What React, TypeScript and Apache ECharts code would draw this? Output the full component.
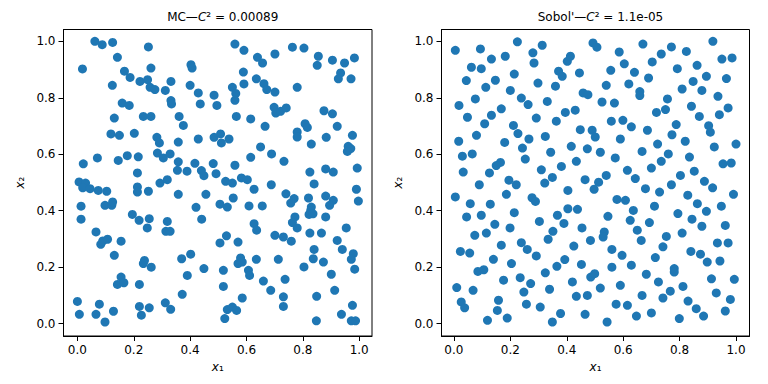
import React, { useEffect, useRef } from "react";
import * as echarts from "echarts";

const FONT = "DejaVu Sans";
const POINT_COLOR = "#1f77b4";

const leftTitle = "{a|MC—}{i|C}{a|² = 0.00089}";
const rightTitle = "{a|Sobol'—}{i|C}{a|² = 1.1e-05}";
const xName = "{i|x}{a|₁}";
const yName = "{i|x}{a|₂}";
const tickValues = [0, 0.2, 0.4, 0.6, 0.8, 1.0];

const mcPoints: [number, number][] = [
  [0.062, 1.0], [0.088, 0.988], [0.125, 0.996], [0.252, 0.98], [0.142, 0.943], [0.018, 0.902], [0.167, 0.894], [0.187, 0.872],
  [0.261, 0.905], [0.403, 0.917], [0.407, 0.905], [0.124, 0.844], [0.222, 0.858], [0.249, 0.864], [0.258, 0.837], [0.275, 0.829],
  [0.332, 0.858], [0.312, 0.826], [0.4, 0.844], [0.429, 0.817], [0.485, 0.809], [0.495, 0.773], [0.436, 0.778], [0.332, 0.79],
  [0.334, 0.778], [0.159, 0.781], [0.184, 0.773], [0.131, 0.728], [0.234, 0.734], [0.261, 0.734], [0.361, 0.734], [0.376, 0.702],
  [0.119, 0.672], [0.149, 0.667], [0.202, 0.674], [0.282, 0.66], [0.291, 0.64], [0.358, 0.643], [0.429, 0.654], [0.485, 0.66],
  [0.021, 0.566], [0.071, 0.587], [0.145, 0.578], [0.177, 0.595], [0.216, 0.591], [0.284, 0.604], [0.305, 0.587], [0.329, 0.601],
  [0.358, 0.573], [0.355, 0.543], [0.389, 0.54], [0.417, 0.568], [0.44, 0.542], [0.449, 0.524], [0.482, 0.567], [0.492, 0.531],
  [0.213, 0.534], [0.006, 0.502], [0.029, 0.498], [0.293, 0.498], [0.319, 0.51],
  [0.019, 0.481], [0.045, 0.478], [0.074, 0.472], [0.104, 0.469], [0.213, 0.484], [0.213, 0.466], [0.252, 0.469], [0.358, 0.458],
  [0.456, 0.458], [0.013, 0.416], [0.013, 0.37], [0.098, 0.419], [0.122, 0.419], [0.125, 0.431], [0.195, 0.387], [0.219, 0.366],
  [0.255, 0.372], [0.248, 0.339], [0.319, 0.362], [0.314, 0.327], [0.329, 0.327], [0.421, 0.412], [0.441, 0.37], [0.066, 0.325],
  [0.083, 0.281], [0.09, 0.293], [0.107, 0.299], [0.155, 0.292], [0.131, 0.242], [0.238, 0.224], [0.234, 0.213], [0.262, 0.2],
  [0.37, 0.23], [0.402, 0.246], [0.449, 0.195], [0.39, 0.171], [0.155, 0.165], [0.142, 0.139], [0.165, 0.145], [0.22, 0.139],
  [0.372, 0.104], [0.0, 0.079], [0.007, 0.033], [0.078, 0.069], [0.066, 0.033], [0.098, 0.006], [0.128, 0.044], [0.22, 0.061],
  [0.227, 0.03], [0.255, 0.056], [0.312, 0.074], [0.331, 0.051],
  [0.559, 0.99], [0.591, 0.968], [0.639, 0.943], [0.657, 0.923], [0.701, 0.955], [0.763, 0.979], [0.804, 0.976], [0.855, 0.947],
  [0.851, 0.915], [0.905, 0.933], [0.948, 0.923], [0.983, 0.941], [0.934, 0.888], [0.926, 0.867], [0.971, 0.867], [0.589, 0.891],
  [0.635, 0.867], [0.591, 0.849], [0.55, 0.837], [0.662, 0.85], [0.672, 0.829], [0.701, 0.82], [0.78, 0.837], [0.562, 0.815],
  [0.559, 0.791], [0.698, 0.766], [0.704, 0.746], [0.721, 0.752], [0.741, 0.764], [0.875, 0.754], [0.905, 0.743], [0.564, 0.734],
  [0.615, 0.725], [0.666, 0.699], [0.808, 0.708], [0.816, 0.695], [0.922, 0.699], [0.78, 0.679], [0.78, 0.661], [0.883, 0.66],
  [0.976, 0.667], [0.83, 0.636], [0.961, 0.628], [0.97, 0.62], [0.958, 0.61], [0.508, 0.672], [0.511, 0.64], [0.538, 0.654],
  [0.65, 0.626], [0.689, 0.601], [0.615, 0.589], [0.733, 0.575], [0.559, 0.561], [0.526, 0.504], [0.55, 0.498], [0.582, 0.516],
  [0.603, 0.51], [0.825, 0.537], [0.881, 0.548], [0.908, 0.537], [0.993, 0.551], [0.688, 0.492], [0.84, 0.495],
  [0.627, 0.476], [0.99, 0.476], [0.997, 0.434], [0.553, 0.445], [0.506, 0.423], [0.532, 0.413], [0.609, 0.417], [0.656, 0.417],
  [0.74, 0.46], [0.769, 0.443], [0.757, 0.427], [0.82, 0.445], [0.83, 0.413], [0.828, 0.401], [0.822, 0.387], [0.836, 0.389],
  [0.881, 0.452], [0.908, 0.437], [0.895, 0.419], [0.881, 0.378], [0.772, 0.378], [0.763, 0.358], [0.78, 0.339], [0.627, 0.354],
  [0.636, 0.331], [0.701, 0.313], [0.731, 0.307], [0.759, 0.292], [0.825, 0.321], [0.866, 0.321], [0.954, 0.339], [0.922, 0.295],
  [0.94, 0.263], [0.979, 0.248], [0.972, 0.228], [0.984, 0.193], [0.529, 0.311], [0.506, 0.286], [0.57, 0.289], [0.84, 0.263],
  [0.837, 0.23], [0.873, 0.218], [0.579, 0.233], [0.57, 0.213], [0.585, 0.218], [0.635, 0.228], [0.713, 0.228], [0.804, 0.201],
  [0.518, 0.189], [0.607, 0.189], [0.611, 0.171], [0.901, 0.175], [0.66, 0.151], [0.737, 0.157], [0.518, 0.132], [0.686, 0.118],
  [0.913, 0.118], [0.585, 0.091], [0.731, 0.095], [0.731, 0.061], [0.849, 0.097], [0.976, 0.065], [0.532, 0.05], [0.55, 0.059],
  [0.565, 0.047], [0.523, 0.018], [0.937, 0.033], [0.848, 0.01], [0.972, 0.01], [0.987, 0.01],
];

const sobolPoints: [number, number][] = [
  [0.005, 0.968], [0.094, 0.973], [0.225, 0.998], [0.313, 0.986], [0.28, 0.959], [0.284, 0.923], [0.133, 0.937], [0.182, 0.947],
  [0.062, 0.908], [0.097, 0.903], [0.044, 0.861], [0.113, 0.837], [0.147, 0.862], [0.214, 0.884], [0.2, 0.826], [0.298, 0.852],
  [0.36, 0.841], [0.402, 0.929], [0.413, 0.947], [0.371, 0.894], [0.384, 0.876], [0.445, 0.888], [0.493, 0.994], [0.458, 0.817],
  [0.475, 0.811], [0.018, 0.773], [0.076, 0.796], [0.239, 0.799], [0.263, 0.776], [0.331, 0.787], [0.168, 0.761], [0.048, 0.731],
  [0.133, 0.738], [0.109, 0.708], [0.292, 0.728], [0.363, 0.717], [0.395, 0.748], [0.43, 0.756], [0.211, 0.702], [0.227, 0.673],
  [0.08, 0.667], [0.017, 0.646], [0.18, 0.642], [0.266, 0.654], [0.324, 0.663], [0.448, 0.687], [0.49, 0.685], [0.243, 0.622],
  [0.253, 0.583], [0.343, 0.607], [0.416, 0.628], [0.473, 0.619], [0.03, 0.593], [0.065, 0.601], [0.165, 0.571], [0.15, 0.56],
  [0.434, 0.575], [0.381, 0.557], [0.31, 0.545], [0.033, 0.537], [0.126, 0.534], [0.349, 0.518], [0.195, 0.508], [0.322, 0.498],
  [0.465, 0.51], [0.09, 0.492], [0.221, 0.492],
  [0.404, 0.472], [0.497, 0.476], [0.005, 0.449], [0.058, 0.425], [0.129, 0.423], [0.186, 0.458], [0.277, 0.446], [0.289, 0.433],
  [0.404, 0.407], [0.438, 0.405], [0.045, 0.378], [0.097, 0.384], [0.214, 0.393], [0.367, 0.384], [0.303, 0.362], [0.39, 0.355],
  [0.145, 0.352], [0.199, 0.339], [0.454, 0.339], [0.074, 0.313], [0.115, 0.321], [0.351, 0.327], [0.334, 0.299], [0.484, 0.295],
  [0.168, 0.278], [0.239, 0.287], [0.26, 0.263], [0.425, 0.275], [0.023, 0.256], [0.056, 0.25], [0.292, 0.24], [0.14, 0.228],
  [0.204, 0.213], [0.393, 0.227], [0.365, 0.203], [0.452, 0.21], [0.085, 0.185], [0.106, 0.191], [0.324, 0.18], [0.235, 0.163],
  [0.176, 0.154], [0.272, 0.142], [0.42, 0.148], [0.485, 0.165], [0.499, 0.177], [0.01, 0.128], [0.068, 0.118], [0.248, 0.112],
  [0.339, 0.122], [0.434, 0.097], [0.473, 0.1], [0.026, 0.077], [0.038, 0.056], [0.158, 0.083], [0.154, 0.047], [0.257, 0.069],
  [0.306, 0.059], [0.119, 0.012], [0.189, 0.02], [0.349, 0.006], [0.378, 0.036], [0.465, 0.033],
  [0.507, 0.979], [0.67, 0.99], [0.771, 0.98], [0.918, 1.0], [0.586, 0.962], [0.735, 0.955], [0.824, 0.964], [0.604, 0.92],
  [0.703, 0.927], [0.95, 0.937], [0.986, 0.941], [0.556, 0.897], [0.64, 0.89], [0.792, 0.903], [0.862, 0.915], [0.54, 0.844],
  [0.62, 0.849], [0.69, 0.87], [0.848, 0.858], [0.895, 0.876], [0.966, 0.868], [0.659, 0.822], [0.659, 0.808], [0.809, 0.831],
  [0.879, 0.826], [0.936, 0.805], [0.525, 0.785], [0.569, 0.781], [0.757, 0.796], [0.75, 0.758], [0.718, 0.748], [0.842, 0.77],
  [0.87, 0.734], [0.972, 0.764], [0.941, 0.74], [0.558, 0.717], [0.599, 0.72], [0.629, 0.697], [0.686, 0.685], [0.788, 0.705],
  [0.773, 0.669], [0.903, 0.701], [0.909, 0.678], [0.501, 0.661], [0.59, 0.654], [0.722, 0.636], [0.82, 0.646], [0.923, 0.626],
  [1.0, 0.636], [0.519, 0.607], [0.667, 0.61], [0.76, 0.601], [0.835, 0.59], [0.572, 0.587], [0.735, 0.575], [0.954, 0.566],
  [0.983, 0.569], [0.7, 0.551], [0.615, 0.543], [0.852, 0.54], [0.54, 0.525], [0.643, 0.514], [0.803, 0.525], [0.513, 0.501],
  [0.888, 0.504], [0.771, 0.492],
  [0.679, 0.478], [0.729, 0.466], [0.917, 0.481], [0.829, 0.455], [0.991, 0.458], [0.578, 0.44], [0.608, 0.437], [0.863, 0.425],
  [0.711, 0.416], [0.636, 0.401], [0.895, 0.398], [0.948, 0.416], [0.546, 0.38], [0.794, 0.39], [0.625, 0.366], [0.693, 0.358],
  [0.844, 0.37], [0.879, 0.345], [0.962, 0.348], [0.65, 0.331], [0.533, 0.325], [0.529, 0.307], [0.809, 0.321], [0.753, 0.309],
  [0.664, 0.295], [0.934, 0.286], [0.972, 0.286], [0.741, 0.272], [0.56, 0.263], [0.596, 0.242], [0.714, 0.234], [0.84, 0.256],
  [0.874, 0.246], [0.898, 0.218], [0.943, 0.222], [0.56, 0.2], [0.629, 0.207], [0.781, 0.195], [0.781, 0.183], [0.682, 0.175],
  [0.913, 0.159], [0.994, 0.157], [0.725, 0.148], [0.59, 0.136], [0.519, 0.126], [0.812, 0.132], [0.767, 0.115], [0.667, 0.1],
  [0.741, 0.091], [0.93, 0.109], [0.98, 0.086], [0.83, 0.08], [0.575, 0.069], [0.615, 0.065], [0.859, 0.053], [0.962, 0.045],
  [0.647, 0.027], [0.7, 0.038], [0.885, 0.027], [0.543, 0.006], [0.799, 0.018],
];

// axes boxes (pixels) and each axis's visible range
const FRAMES = [
  { left: 63.5, top: 29.5, width: 308.5, height: 306.5, xMin: -0.0493, xMax: 1.0454 },
  { left: 441.5, top: 29.5, width: 308, height: 306.5, xMin: -0.044, xMax: 1.0478 },
];
const Y_MIN = -0.0436;
const Y_MAX = 1.0417;

export default function App() {
  const ref = useRef<HTMLDivElement>(null);
  useEffect(() => {
    document.body.style.margin = "0";
    if (!ref.current) return;
    const chart = echarts.init(ref.current, null, { renderer: "svg" });
    const labelRich = {
      a: { fontFamily: FONT, fontSize: 12, color: "#000", fontWeight: "normal" },
      i: { fontFamily: FONT, fontSize: 12, fontStyle: "italic", color: "#000", fontWeight: "normal" },
    };
    const titleRich = {
      a: { fontFamily: FONT, fontSize: 12, color: "#000", fontWeight: "normal" },
      i: { fontFamily: FONT, fontSize: 12, fontStyle: "italic", color: "#000", fontWeight: "normal" },
    };
    const fmt = (v: number) => v.toFixed(1);
    const tickStyle = { show: true, length: 5, lineStyle: { color: "#000", width: 1 }, customValues: tickValues };
    const labelStyle = {
      color: "#000",
      fontFamily: FONT,
      fontSize: 12,
      margin: 8,
      formatter: fmt,
      customValues: tickValues,
    };
    const xAxes = FRAMES.map((f, i) => ({
      gridIndex: i,
      type: "value",
      min: f.xMin,
      max: f.xMax,
      axisLine: { show: true, onZero: false, lineStyle: { color: "#000", width: 1 } },
      axisTick: tickStyle,
      axisLabel: labelStyle,
      splitLine: { show: false },
      name: xName,
      nameLocation: "middle",
      nameGap: 25,
      nameTextStyle: { rich: labelRich },
    }));
    const yAxes = FRAMES.map((f, i) => ({
      gridIndex: i,
      type: "value",
      min: Y_MIN,
      max: Y_MAX,
      axisLine: { show: true, onZero: false, lineStyle: { color: "#000", width: 1 } },
      axisTick: tickStyle,
      axisLabel: labelStyle,
      splitLine: { show: false },
      name: yName,
      nameLocation: "middle",
      nameRotate: 90,
      nameGap: 38,
      nameTextStyle: { rich: labelRich },
    }));
    chart.setOption({
      animation: false,
      backgroundColor: "#fff",
      title: FRAMES.map((f, i) => ({
        text: i === 0 ? leftTitle : rightTitle,
        left: f.left + f.width / 2,
        top: 6,
        textAlign: "center",
        textStyle: { fontWeight: "normal", rich: titleRich },
      })),
      grid: FRAMES.map((f) => ({
        left: f.left,
        top: f.top,
        width: f.width,
        height: f.height,
        show: true,
        borderColor: "#000",
        borderWidth: 1,
        backgroundColor: "transparent",
      })),
      xAxis: xAxes,
      yAxis: yAxes,
      series: [
        {
          type: "scatter",
          xAxisIndex: 0,
          yAxisIndex: 0,
          data: mcPoints,
          symbolSize: 9,
          clip: false,
          itemStyle: { color: POINT_COLOR, opacity: 1 },
          emphasis: { disabled: true },
        },
        {
          type: "scatter",
          xAxisIndex: 1,
          yAxisIndex: 1,
          data: sobolPoints,
          symbolSize: 9,
          clip: false,
          itemStyle: { color: POINT_COLOR, opacity: 1 },
          emphasis: { disabled: true },
        },
      ],
    });
    return () => chart.dispose();
  }, []);
  return <div ref={ref} style={{ width: 768, height: 384 }} />;
}
